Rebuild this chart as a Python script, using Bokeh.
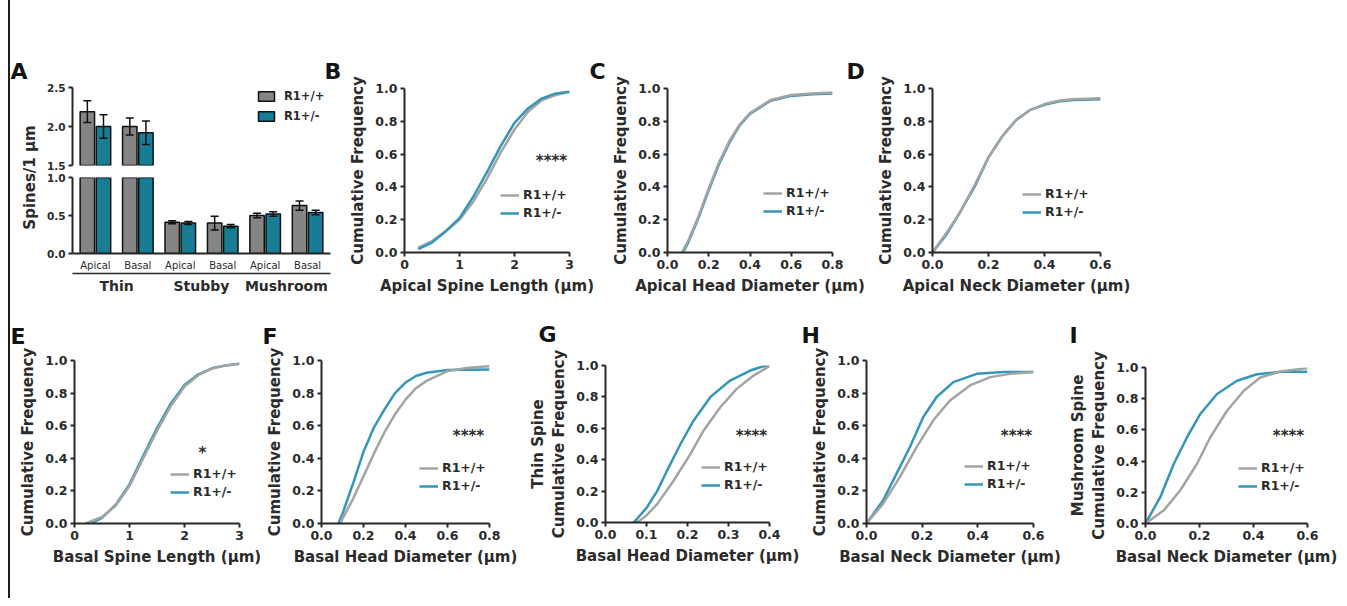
from bokeh.plotting import figure
from bokeh.models import (Range1d, FactorRange, FixedTicker, NumeralTickFormatter,
                          Legend, LegendItem, Label, ColumnDataSource,
                          CDSView, BooleanFilter, CategoricalAxis)
from bokeh.core.properties import value
from bokeh.transform import dodge
from bokeh.layouts import row, column
from bokeh.embed import file_html
from bokeh.resources import INLINE
import math

# ---------------- data ----------------
spine_types = ["Thin", "Stubby", "Mushroom"]
dendrites = ["Apical", "Basal"]
genotypes = ["R1+/+", "R1+/-"]
density_wt = [2.19, 2.00, 0.41, 0.40, 0.50, 0.63]
density_wt_sem = [0.14, 0.11, 0.02, 0.09, 0.03, 0.06]
density_het = [2.00, 1.92, 0.40, 0.36, 0.52, 0.54]
density_het_sem = [0.15, 0.15, 0.02, 0.02, 0.03, 0.03]
upper_ticks = [1.5, 2.0, 2.5]
lower_ticks = [0.0, 0.5, 1.0]

cdf_yticks = [0.0, 0.2, 0.4, 0.6, 0.8, 1.0]

# B  Apical spine length
b_x_wt = [0.25, 0.5, 0.75, 1.0, 1.25, 1.5, 1.75, 2.0, 2.25, 2.5, 2.75, 3.0]
b_wt = [0.03, 0.07, 0.13, 0.20, 0.31, 0.45, 0.61, 0.75, 0.86, 0.93, 0.96, 0.98]
b_x_het = [0.25, 0.5, 0.75, 1.0, 1.25, 1.5, 1.75, 2.0, 2.25, 2.5, 2.75, 3.0]
b_het = [0.02, 0.06, 0.13, 0.21, 0.34, 0.49, 0.65, 0.79, 0.88, 0.94, 0.97, 0.98]
b_ticks = [0, 1, 2, 3]

# C  Apical head diameter
c_x_wt = [0.07, 0.10, 0.15, 0.20, 0.25, 0.30, 0.35, 0.40, 0.50, 0.60, 0.70, 0.80]
c_wt = [0.0, 0.07, 0.22, 0.39, 0.55, 0.68, 0.78, 0.85, 0.93, 0.96, 0.97, 0.975]
c_x_het = [0.075, 0.10, 0.15, 0.20, 0.25, 0.30, 0.35, 0.40, 0.50, 0.60, 0.70, 0.80]
c_het = [0.0, 0.06, 0.21, 0.38, 0.54, 0.67, 0.775, 0.845, 0.925, 0.955, 0.965, 0.97]
c_ticks = [0.0, 0.2, 0.4, 0.6, 0.8]

# D  Apical neck diameter
d_x_wt = [0.0, 0.05, 0.10, 0.15, 0.20, 0.25, 0.30, 0.35, 0.40, 0.45, 0.50, 0.60]
d_wt = [0.0, 0.12, 0.25, 0.41, 0.58, 0.71, 0.81, 0.87, 0.905, 0.925, 0.935, 0.94]
d_x_het = [0.0, 0.05, 0.10, 0.15, 0.20, 0.25, 0.30, 0.35, 0.40, 0.45, 0.50, 0.60]
d_het = [0.0, 0.11, 0.25, 0.40, 0.58, 0.71, 0.81, 0.87, 0.90, 0.92, 0.93, 0.935]
d_ticks = [0.0, 0.2, 0.4, 0.6]

# E  Basal spine length
e_x_wt = [0.2, 0.5, 0.75, 1.0, 1.25, 1.5, 1.75, 2.0, 2.25, 2.5, 2.75, 3.0]
e_wt = [0.0, 0.04, 0.11, 0.23, 0.40, 0.57, 0.72, 0.84, 0.91, 0.95, 0.97, 0.98]
e_x_het = [0.3, 0.5, 0.75, 1.0, 1.25, 1.5, 1.75, 2.0, 2.25, 2.5, 2.75, 3.0]
e_het = [0.0, 0.035, 0.115, 0.24, 0.415, 0.585, 0.735, 0.85, 0.915, 0.952, 0.97, 0.98]
e_ticks = [0, 1, 2, 3]

# F  Basal head diameter
f_x_wt = [0.09, 0.10, 0.15, 0.20, 0.25, 0.30, 0.35, 0.40, 0.45, 0.50, 0.60, 0.70, 0.80]
f_wt = [0.0, 0.03, 0.15, 0.29, 0.43, 0.56, 0.67, 0.76, 0.83, 0.875, 0.935, 0.955, 0.965]
f_x_het = [0.08, 0.10, 0.15, 0.20, 0.25, 0.30, 0.35, 0.40, 0.45, 0.50, 0.60, 0.70, 0.80]
f_het = [0.0, 0.06, 0.245, 0.44, 0.59, 0.70, 0.80, 0.865, 0.905, 0.925, 0.942, 0.944, 0.945]
f_ticks = [0.0, 0.2, 0.4, 0.6, 0.8]

# G  Thin spine basal head diameter
g_x_wt = [0.077, 0.10, 0.126, 0.166, 0.207, 0.239, 0.28, 0.32, 0.361, 0.40]
g_wt = [0.0, 0.045, 0.117, 0.266, 0.436, 0.585, 0.734, 0.851, 0.936, 0.996]
g_x_het = [0.069, 0.101, 0.126, 0.15, 0.183, 0.215, 0.256, 0.304, 0.353, 0.385, 0.40]
g_het = [0.0, 0.096, 0.20, 0.33, 0.50, 0.65, 0.80, 0.904, 0.968, 0.995, 1.0]
g_ticks = [0.0, 0.1, 0.2, 0.3, 0.4]

# H  Basal neck diameter
h_x_wt = [0.0, 0.06, 0.12, 0.18, 0.24, 0.30, 0.372, 0.444, 0.516, 0.60]
h_wt = [0.0, 0.122, 0.286, 0.469, 0.633, 0.755, 0.847, 0.898, 0.918, 0.929]
h_x_het = [0.0, 0.06, 0.108, 0.156, 0.204, 0.252, 0.312, 0.396, 0.492, 0.60]
h_het = [0.0, 0.143, 0.306, 0.469, 0.653, 0.776, 0.867, 0.918, 0.929, 0.929]
h_ticks = [0.0, 0.2, 0.4, 0.6]

# I  Mushroom spine basal neck diameter
i_x_wt = [0.0, 0.068, 0.129, 0.191, 0.24, 0.302, 0.364, 0.425, 0.499, 0.60]
i_wt = [0.0, 0.085, 0.213, 0.383, 0.553, 0.723, 0.851, 0.936, 0.974, 0.996]
i_x_het = [0.0, 0.055, 0.105, 0.154, 0.203, 0.265, 0.339, 0.413, 0.499, 0.60]
i_het = [0.0, 0.17, 0.383, 0.553, 0.702, 0.83, 0.915, 0.957, 0.972, 0.972]
i_ticks = [0.0, 0.2, 0.4, 0.6]

# ---------------- style ----------------
FONT = "DejaVu Sans"
AX = "#262626"
TXT = "#2b2b2b"
LETTER = "#141414"
GRAY_BAR = "#858585"
TEAL_BAR = "#177d95"
GRAY_LINE = "#a4a4a4"
TEAL_LINE = "#3497b8"


def base_fig(**kw):
    p = figure(toolbar_location=None, output_backend="svg", **kw)
    p.outline_line_color = None
    p.grid.visible = False
    p.background_fill_color = "white"
    p.border_fill_color = "white"
    return p


def style_axis(ax, label_size="12.5px"):
    ax.axis_line_width = 2
    ax.axis_line_color = AX
    ax.major_tick_line_width = 2
    ax.major_tick_line_color = AX
    ax.major_tick_out = 4
    ax.major_tick_in = 0
    ax.minor_tick_line_color = None
    ax.major_label_text_font = FONT
    ax.major_label_text_font_style = "bold"
    ax.major_label_text_font_size = label_size
    ax.major_label_text_color = TXT
    ax.major_label_standoff = 3
    ax.axis_label_text_font = FONT
    ax.axis_label_text_font_style = "bold"
    ax.axis_label_text_font_size = "15px"
    ax.axis_label_text_color = TXT
    ax.axis_label_standoff = 5


def set_letter(t, text, offset, standoff):
    t.text = text
    t.align = "left"
    t.offset = offset
    t.standoff = standoff
    t.text_font = FONT
    t.text_font_style = "bold"
    t.text_font_size = "22px"
    t.text_color = LETTER


def add_text(p, text, x, y, size="15px", angle=0.0):
    p.add_layout(Label(x=x, y=y, x_units="screen", y_units="screen", text=text,
                       text_font=FONT, text_font_style="bold", text_font_size=size,
                       text_color=TXT, text_align="center", text_baseline="middle",
                       angle=angle))


# ---------------- panel A ----------------
factors = [(t, d) for t in spine_types for d in dendrites]
xr = FactorRange(*factors, group_padding=0, factor_padding=0,
                 range_padding=0.04, range_padding_units="absolute")
src = ColumnDataSource(dict(
    x=factors,
    wt=density_wt, het=density_het,
    wt_lo=[m - s for m, s in zip(density_wt, density_wt_sem)],
    wt_hi=[m + s for m, s in zip(density_wt, density_wt_sem)],
    het_lo=[m - s for m, s in zip(density_het, density_het_sem)],
    het_hi=[m + s for m, s in zip(density_het, density_het_sem)],
))

# strip holding the panel letter and the shared y title of the broken axis
label_a = base_fig(frame_width=30, frame_height=154, min_border_left=0, min_border_right=0,
                   min_border_top=92, min_border_bottom=46,
                   x_range=Range1d(0, 1), y_range=Range1d(0, 1),
                   x_axis_location=None, y_axis_location=None)
set_letter(label_a.title, "A", 0, 34)
add_text(label_a, "Spines/1 μm", 19, 77, angle=math.pi / 2)


def bars(p, view=None):
    rs = []
    kw = dict(source=src)
    if view is not None:
        kw["view"] = view
    for key, off, col in (("wt", -0.19, GRAY_BAR), ("het", 0.19, TEAL_BAR)):
        xd = dodge("x", off, range=xr)
        r = p.vbar(x=xd, top=key, bottom=0, width=0.34,
                   fill_color=col, line_color="#111111", line_width=1.5, **kw)
        p.segment(x0=xd, y0=key + "_lo", x1=xd, y1=key + "_hi",
                  line_color="#111111", line_width=1.5, **kw)
        for end in ("_lo", "_hi"):
            p.scatter(x=xd, y=key + end, marker="dash", size=8,
                      line_color="#111111", line_width=1.5, **kw)
        rs.append(r)
    return rs


upper_mask = [max(a, b) > upper_ticks[0] for a, b in zip(density_wt, density_het)]
pa_top = base_fig(x_range=xr, y_range=Range1d(1.5, 2.5), frame_width=258, frame_height=78,
                  min_border_left=32, min_border_right=16, min_border_top=79,
                  min_border_bottom=6, x_axis_location=None)
r_wt, r_het = bars(pa_top, CDSView(filter=BooleanFilter(upper_mask)))
style_axis(pa_top.yaxis[0], "10.5px")
pa_top.yaxis.ticker = FixedTicker(ticks=upper_ticks)
pa_top.yaxis.formatter = NumeralTickFormatter(format="0.0")
# letter of the neighbouring panel B (its position lies in this canvas)
set_letter(pa_top.title, "B", 252, 8)
leg_a = Legend(items=[LegendItem(label=value(genotypes[0]), renderers=[r_wt]),
                      LegendItem(label=value(genotypes[1]), renderers=[r_het])],
               location=(184, 42), orientation="vertical", glyph_width=20, glyph_height=12,
               label_height=12, spacing=6, padding=0, margin=0, label_standoff=8,
               background_fill_alpha=0, border_line_color=None,
               label_text_font=FONT, label_text_font_style="bold",
               label_text_font_size="11.5px", label_text_color=TXT)
pa_top.add_layout(leg_a)

pa_bot = base_fig(x_range=xr, y_range=Range1d(0, 1.0), frame_width=258, frame_height=76,
                  min_border_left=32, min_border_right=16, min_border_top=6,
                  min_border_bottom=47)
bars(pa_bot)
style_axis(pa_bot.yaxis[0], "10.5px")
pa_bot.yaxis.ticker = FixedTicker(ticks=lower_ticks)
pa_bot.yaxis.formatter = NumeralTickFormatter(format="0.0")
# first x axis: baseline + dendrite labels
xa = pa_bot.xaxis[0]
style_axis(xa, "10px")
xa.major_label_text_font_style = "normal"
xa.major_tick_line_color = None
xa.major_label_standoff = 2
xa.separator_line_color = None
xa.group_text_font_size = "1px"
xa.group_text_color = None
xa.major_label_orientation = "horizontal"
# second x axis: its line underlines the dendrite labels, spine-type labels below
xa2 = CategoricalAxis()
pa_bot.add_layout(xa2, "below")
style_axis(xa2, "1px")
xa2.axis_line_width = 1.5
xa2.major_tick_line_color = None
xa2.major_label_text_color = None
xa2.major_label_standoff = 0
xa2.separator_line_color = None
xa2.group_text_font = FONT
xa2.group_text_font_style = "bold"
xa2.group_text_font_size = "14px"
xa2.group_text_color = TXT


# ---------------- CDF panels ----------------
def cdf_panel(fw, fh, left, right, top, bottom, xmax, ticks, fmt, xlabel, ylabel,
              x_wt, y_wt, x_het, y_het, leg_loc, stars=None, letter=None,
              gray_on_top=True):
    p = base_fig(frame_width=fw, frame_height=fh, min_border_left=left,
                 min_border_right=right, min_border_top=top, min_border_bottom=bottom,
                 x_range=Range1d(0, xmax), y_range=Range1d(0, 1.0))
    style_axis(p.xaxis[0])
    style_axis(p.yaxis[0])
    p.xaxis.ticker = FixedTicker(ticks=ticks)
    p.xaxis.formatter = NumeralTickFormatter(format=fmt)
    p.yaxis.ticker = FixedTicker(ticks=cdf_yticks)
    p.yaxis.formatter = NumeralTickFormatter(format="0.0")
    p.xaxis.axis_label = xlabel
    p.yaxis.axis_label = ylabel
    if gray_on_top:
        rh = p.line(x_het, y_het, line_color=TEAL_LINE, line_width=2.5)
        rw = p.line(x_wt, y_wt, line_color=GRAY_LINE, line_width=2.5)
    else:
        rw = p.line(x_wt, y_wt, line_color=GRAY_LINE, line_width=2.5)
        rh = p.line(x_het, y_het, line_color=TEAL_LINE, line_width=2.5)
    leg = Legend(items=[LegendItem(label=value(genotypes[0]), renderers=[rw]),
                        LegendItem(label=value(genotypes[1]), renderers=[rh])],
                 location=leg_loc, glyph_width=19, glyph_height=12, label_height=12,
                 spacing=3, padding=0, margin=0, label_standoff=4,
                 background_fill_alpha=0, border_line_color=None,
                 label_text_font=FONT, label_text_font_style="bold",
                 label_text_font_size="12.5px", label_text_color=TXT)
    p.add_layout(leg)
    if stars:
        add_text(p, stars[0], stars[1], stars[2])
    if letter:
        set_letter(p.title, letter[0], letter[1], letter[2])
    return p


# top row: each panel letter is drawn by the canvas in which its position lies
pb = cdf_panel(165, 164, 53, 40, 80, 48, 3, b_ticks, "0", "Apical Spine Length (μm)",
               "Cumulative Frequency", b_x_wt, b_wt, b_x_het, b_het, (96, 32),
               stars=("****", 147, 92), letter=("C", 185, 10), gray_on_top=False)
pc = cdf_panel(165, 164, 53, 34, 80, 48, 0.8, c_ticks, "0.0", "Apical Head Diameter (μm)",
               "Cumulative Frequency", c_x_wt, c_wt, c_x_het, c_het, (96, 34),
               letter=("D", 179, 10))
pd_ = cdf_panel(168, 164, 66, 40, 80, 48, 0.6, d_ticks, "0.0", "Apical Neck Diameter (μm)",
                "Cumulative Frequency", d_x_wt, d_wt, d_x_het, d_het, (90, 33))

pe = cdf_panel(165, 163, 64, 22, 60, 57, 3, e_ticks, "0", "Basal Spine Length (μm)",
               "Cumulative Frequency", e_x_wt, e_wt, e_x_het, e_het, (96, 24),
               stars=("*", 128, 71), letter=("E", -64, 24))
pf = cdf_panel(168, 163, 60, 36, 60, 57, 0.8, f_ticks, "0.0", "Basal Head Diameter (μm)",
               "Cumulative Frequency", f_x_wt, f_wt, f_x_het, f_het, (98, 30),
               stars=("****", 147, 88), letter=("F", -59, 24))
pg = cdf_panel(164, 157, 77, 31, 65, 58, 0.4, g_ticks, "0.0", "Basal Head Diameter (μm)",
               "Thin Spine\nCumulative Frequency", g_x_wt, g_wt, g_x_het, g_het, (96, 30),
               stars=("****", 146, 87), letter=("G", -67, 38))
ph = cdf_panel(167, 163, 66, 29, 60, 57, 0.6, h_ticks, "0.0", "Basal Neck Diameter (μm)",
               "Cumulative Frequency", h_x_wt, h_wt, h_x_het, h_het, (98, 32),
               stars=("****", 150, 88), letter=("H", -65, 26))
pi_ = cdf_panel(162, 156, 83, 33, 67, 57, 0.6, i_ticks, "0.0", "Basal Neck Diameter (μm)",
                "Mushroom Spine\nCumulative Frequency", i_x_wt, i_wt, i_x_het, i_het, (93, 30),
                stars=("****", 143, 88), letter=("I", -76, 40))

layout = column(
    row(column(label_a), column(pa_top, pa_bot), column(pb), column(pc), column(pd_)),
    row(column(pe), column(pf), column(pg), column(ph), column(pi_)),
    styles={"margin-left": "8px", "border-left": "2px solid #1e1e1e",
            "padding-top": "8px", "padding-bottom": "18px"},
)

open("out.html", "w").write(file_html(layout, INLINE))
